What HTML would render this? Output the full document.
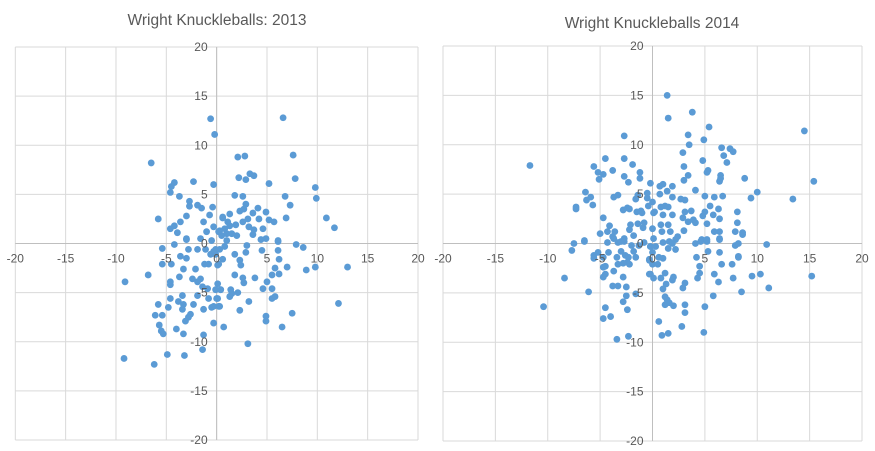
<!DOCTYPE html>
<html><head><meta charset="utf-8"><style>
body{margin:0;background:#fff;}
svg{display:block;font-family:"Liberation Sans",sans-serif;}
</style></head><body>
<svg id="c" width="875" height="451" viewBox="0 0 875 451">
<text x="217" y="25" text-anchor="middle" font-size="15.5" fill="#595959">Wright Knuckleballs: 2013</text>
<text x="652" y="28" text-anchor="middle" font-size="15.5" fill="#595959">Wright Knuckleballs 2014</text>
<g id="p13"></g>
<g id="p14"></g>
</svg>
<script>
const ticks = [-20,-15,-10,-5,0,5,10,15,20];
const x13 = [-0.6,-0.2,-6.5,-4.2,-4.5,-4.6,-2.3,-0.3,-3.7,-2.7,-2.7,-1.9,-1.5,-0.4,-5.8,-3.0,-3.6,-1.3,-0.7,0.6,-4.2,-4.6,-3.9,-3.0,-1.6,-0.3,0.2,0.8,1.0,
6.6,7.6,2.1,2.8,2.2,2.9,3.3,3.7,5.2,7.8,9.8,9.9,1.8,2.6,6.8,7.3,2.9,2.7,2.3,4.1,4.9,3.6,1.3,0.6,3.1,4.2,5.2,5.7,6.9,10.9,11.7,1.1,1.9,2.6,3.2,3.7,4.6,3.6,4.9,6.1,4.4,
-9.1,-6.8,-5.4,-5.4,-4.2,-4.5,-3.6,-3.0,-2.8,-1.9,-3.0,-3.3,-2.1,-1.1,-0.6,-0.1,-1.2,-0.8,0.2,-3.7,-4.6,-4.6,-2.4,-1.6,-1.9,-1.4,-0.9,0.1,-0.1,0.4,-1.9,-0.8,0.1,-0.5,0.2,-4.6,-3.4,-3.8,-3.3,-3.4,-2.3,-1.3,-5.8,-4.8,-6.1,-5.4,-2.6,-2.8,-3.1,-5.7,-5.5,-5.3,-4.0,-3.3,-1.3,-0.3,0.7,-1.4,-9.2,-4.9,-3.2,-6.2,
12.1,13.0,9.8,8.9,7.0,6.2,6.1,6.1,7.9,8.6,4.5,3.0,2.9,1.8,2.3,2.4,0.6,0.1,0.3,-0.3,-0.1,1.8,2.6,2.7,3.8,5.8,6.2,5.5,5.0,4.6,5.5,5.5,5.8,1.4,1.5,1.3,2.1,3.2,0.4,0.0,0.3,-0.3,2.3,7.5,4.9,4.9,6.5,3.1,
0.5,1.0,1.5,-0.5,0.8,1.3,-1.0,2.0,0.3];
const y13 = [12.7,11.1,8.2,6.2,5.8,5.2,6.3,6.0,4.8,4.3,3.8,3.9,3.6,3.7,2.5,2.8,2.2,2.2,2.9,2.7,1.8,1.5,1.1,0.5,0.5,1.7,1.2,1.5,1.0,
12.8,9.0,8.8,8.9,6.7,6.5,7.1,6.9,6.1,6.6,5.7,4.6,4.9,4.8,4.8,3.9,4.0,3.5,3.3,3.6,3.2,3.1,3.0,2.6,2.5,2.5,2.4,2.2,2.6,2.6,1.6,2.2,1.9,2.2,1.7,1.4,1.5,0.9,0.5,0.3,0.4,
-3.9,-3.2,-0.5,-2.1,-0.1,-2.1,-1.3,0.4,-0.6,-0.6,-1.5,-2.6,-2.6,-0.6,-1.1,-0.6,-2.1,-2.1,-2.1,-3.4,-3.9,-4.2,-3.6,-3.6,-3.9,-4.4,-4.6,-4.1,-4.7,-4.7,-5.3,-5.6,-5.6,-6.5,-6.4,-5.6,-5.3,-5.9,-6.2,-6.7,-6.2,-6.7,-6.2,-6.5,-7.3,-7.3,-7.2,-7.5,-7.9,-8.3,-8.9,-9.2,-8.7,-9.2,-9.3,-8.1,-8.5,-10.8,-11.7,-11.3,-11.4,-12.3,
-6.1,-2.4,-2.4,-2.7,-2.4,-1.6,-0.7,0.2,-0.1,-0.4,-0.7,-0.2,-0.9,-1.1,-1.7,-2.2,-1.6,-2.2,-0.6,-0.8,-1.1,-3.2,-3.5,-4.0,-3.5,-2.5,-3.1,-3.2,-3.9,-4.6,-4.6,-5.6,-5.4,-4.7,-5.1,-5.4,-5.0,-5.9,-4.7,-5.6,-6.4,-6.4,-6.8,-7.1,-7.4,-7.9,-8.5,-10.2,
0.8,0.3,1.0,0.3,-0.3,1.8,1.2,0.8,1.3];
const x14 = [-11.7,-2.7,-4.5,-2.7,-5.6,-5.2,-4.7,-5.1,-3.8,-1.9,-1.2,-2.7,-1.2,-2.3,-0.2,-6.4,-5.9,-6.3,-5.7,-7.3,-7.3,-3.7,-3.3,-1.4,-1.6,-0.5,-0.5,0.0,-0.4,-2.8,-2.4,-2.2,-1.5,-1.1,-1.0,0.1,-4.7,-4.1,-4.3,-3.6,-2.1,-2.2,-1.4,-0.9,-0.8,0.0,-5.0,-6.5,-3.8,-2.7,-1.8,
1.4,1.5,3.8,5.4,14.5,3.4,4.9,3.5,2.9,6.6,7.4,7.7,6.8,7.1,4.8,3.0,5.3,5.2,3.4,3.0,6.5,6.5,6.4,8.8,15.4,0.7,1.0,1.9,1.4,4.1,5.0,5.9,6.7,10.0,9.4,13.4,0.7,1.9,2.7,3.1,0.8,1.2,1.5,0.2,1.0,1.9,3.1,3.7,2.9,3.4,3.9,4.1,5.0,4.8,5.5,5.8,6.3,6.4,5.2,8.1,8.1,8.6,7.9,6.4,5.9,0.8,1.5,0.9,1.7,3.0,2.2,4.7,5.2,6.4,
-10.4,-8.4,-6.1,-7.7,-7.5,-6.5,-5.6,-5.6,-5.2,-4.7,-4.7,-4.5,-4.7,-4.5,-4.2,-3.4,-3.7,-2.8,-3.3,-4.3,-3.7,-3.3,-3.0,-2.7,-3.0,-2.6,-2.3,-2.4,-2.2,-2.8,-1.6,-1.8,-1.3,-2.0,-0.8,-0.2,-0.3,-3.8,-3.3,-2.5,-2.5,-1.6,-2.8,-2.4,-4.5,-4.0,-4.7,-3.4,-2.3,-0.2,0.1,
0.1,-0.2,0.3,0.0,-0.3,0.6,1.0,0.0,0.5,-0.3,0.8,1.2,1.5,1.9,2.2,1.6,1.0,2.4,4.1,4.6,5.2,6.4,5.3,6.4,4.2,4.5,6.6,7.6,7.9,8.2,8.2,8.2,10.9,8.6,4.3,4.5,5.9,6.3,7.7,9.5,10.3,15.2,11.1,8.5,5.8,2.0,1.9,1.3,1.0,2.9,3.1,1.2,1.4,1.2,1.6,2.0,3.1,3.1,5.0,0.6,2.8,4.9,0.9,1.5];
const y14 = [7.9,10.9,8.6,8.6,7.8,7.2,7.0,6.5,7.4,8.0,7.2,6.8,6.6,6.2,6.1,5.2,4.7,4.4,3.9,3.7,3.5,4.7,4.9,4.9,4.5,5.1,4.6,4.2,3.8,3.4,3.6,3.5,3.2,3.3,3.1,3.1,2.6,1.8,1.2,1.2,1.9,1.4,2.0,1.6,2.1,1.5,1.0,0.3,0.7,0.5,0.8,
15.0,12.7,13.3,11.8,11.4,11.0,10.5,10.0,9.2,9.7,9.6,9.3,8.9,8.2,8.4,7.8,7.4,7.2,6.9,6.4,6.9,6.6,6.3,6.6,6.3,5.8,6.0,5.8,5.3,5.4,4.8,4.7,4.8,5.2,4.6,4.5,5.0,4.7,4.5,4.4,3.7,3.8,3.7,3.2,2.9,2.9,3.2,3.3,2.6,2.2,2.4,2.1,3.2,2.8,3.8,2.9,3.5,2.5,2.0,3.2,2.1,1.1,1.2,1.2,1.2,1.9,1.9,1.2,1.2,1.3,0.4,0.4,0.4,0.5,
-6.4,-3.5,-4.9,-0.7,0.0,0.2,-1.2,-1.5,-0.9,-1.4,-2.4,-2.3,-3.4,-3.1,-0.9,-1.4,-2.8,-3.4,-2.1,0.1,0.5,0.1,0.2,0.2,-0.8,-1.2,-1.4,-1.9,-2.1,-2.0,-1.4,-0.8,-0.2,-0.2,0.1,-0.3,-1.7,-4.3,-4.3,-4.4,-5.3,-5.1,-5.9,-6.7,-6.5,-7.4,-7.6,-9.7,-9.4,-3.1,-3.5,
0.5,-0.3,-0.3,-0.9,-1.6,-1.4,-1.5,-2.1,-2.1,-3.1,-3.5,-3.0,-0.5,0.0,-0.6,0.2,0.1,0.7,0.0,0.2,0.2,0.4,-0.8,-0.9,-1.4,-2.3,-2.1,-2.1,-0.2,0.0,-1.3,-1.4,-0.1,0.9,-3.5,-3.0,-3.1,-3.9,-3.5,-3.3,-3.1,-3.3,-4.5,-4.9,-5.3,-3.4,-3.7,-4.1,-4.6,-4.5,-4.0,-5.4,-5.7,-6.2,-6.0,-6.3,-6.2,-7.0,-6.4,-7.9,-8.4,-9.0,-9.3,-9.1];

const NS="http://www.w3.org/2000/svg";
function mk(parent,tag,attrs){const e=document.createElementNS(NS,tag);for(const k in attrs)e.setAttribute(k,attrs[k]);parent.appendChild(e);return e;}
function drawChart(g, L, R, T, B, xs, ys, tag){
  const sx=v=>L+(v+20)/40*(R-L);
  const sy=v=>B-(v+20)/40*(B-T);
  const x0=sx(0), y0=sy(0);
  for(const t of ticks){
    const gv=mk(g,'line',{x1:sx(t),x2:sx(t),y1:T,y2:B,stroke:'#d9d9d9','stroke-width':1});
    
    
    const gh=mk(g,'line',{x1:L,x2:R,y1:sy(t),y2:sy(t),stroke:'#d9d9d9','stroke-width':1});
    
    
  }
  const ax=mk(g,'line',{x1:L,x2:R,y1:y0,y2:y0,stroke:'#bfbfbf','stroke-width':1});
  
  
  const ay=mk(g,'line',{x1:x0,x2:x0,y1:T,y2:B,stroke:'#bfbfbf','stroke-width':1});
  
  
  for(let i=0;i<xs.length;i++){
    const c=mk(g,'circle',{cx:sx(xs[i]),cy:sy(ys[i]),r:3.4,fill:'#5b9bd5'});
    
    
  }
  for(const t of ticks){
    const tx=mk(g,'text',{x:sx(t),y:y0+19,'text-anchor':'middle','font-size':12,fill:'#595959'});
    tx.textContent=t;
    
    
    const ty=mk(g,'text',{x:x0-9,y:sy(t)+4,'text-anchor':'end','font-size':12,fill:'#595959'});
    ty.textContent=t;
    
    
  }
}
drawChart(document.getElementById('p13'),15.3,418,47,440,x13,y13,'2013');
drawChart(document.getElementById('p14'),443,862,46,441,x14,y14,'2014');
</script>
</body></html>
